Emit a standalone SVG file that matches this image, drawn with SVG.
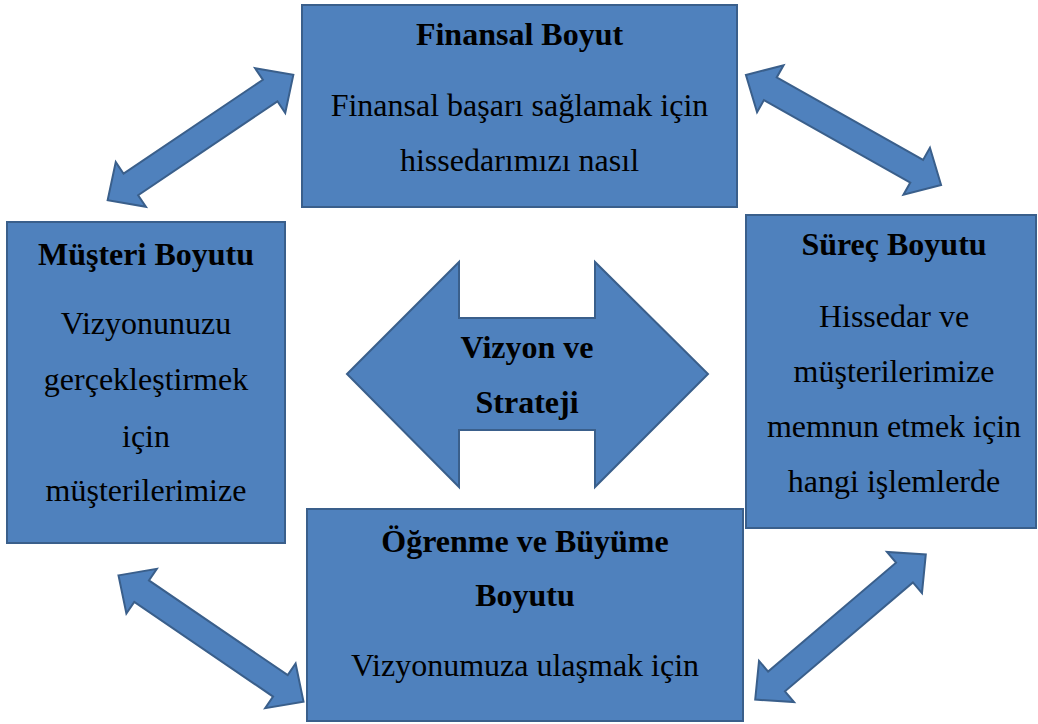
<svg xmlns="http://www.w3.org/2000/svg" width="1038" height="724" viewBox="0 0 1038 724">
  <defs>
    <!-- double-headed block arrow, centred on the origin, pointing along x -->
    <path id="dbl" d="M-112,0 L-84,-27 L-84,-13 L84,-13 L84,-27 L112,0 L84,27 L84,13 L-84,13 L-84,27 Z"/>
  </defs>
  <style>
    .bsc-box { fill: #4F81BD; stroke: #3A5F8B; stroke-width: 2; }
    .bsc-arrow { fill: #4F81BD; stroke: #3A5F8B; stroke-width: 2; stroke-linejoin: miter; }
    .bsc-head { font-family: 'Liberation Serif', serif; font-weight: bold; font-size: 32px; fill: #000000; text-anchor: middle; }
    .bsc-line { font-family: 'Liberation Serif', serif; font-weight: normal; font-size: 32px; fill: #000000; text-anchor: middle; }
  </style>
  <rect width="1038" height="724" fill="#FFFFFF"/>

  <!-- connectors between the four perspectives -->
  <g id="connectors">
    <use href="#dbl" class="bsc-arrow" transform="translate(200.5,137.5) rotate(-34)"/>
    <use href="#dbl" class="bsc-arrow" transform="translate(843.5,130) rotate(29.4)"/>
    <use href="#dbl" class="bsc-arrow" transform="translate(211,638.5) rotate(34.3)"/>
    <use href="#dbl" class="bsc-arrow" transform="translate(840.5,627) rotate(-40.4)"/>
  </g>

  <g id="finansal">
    <rect class="bsc-box" x="302" y="5" width="435" height="202"/>
    <text class="bsc-head" x="519.5" y="45">Finansal Boyut</text>
    <text class="bsc-line" x="519.5" y="116">Finansal başarı sağlamak için</text>
    <text class="bsc-line" x="519.5" y="171">hissedarımızı nasıl</text>
  </g>

  <g id="musteri">
    <rect class="bsc-box" x="7" y="222" width="278" height="321"/>
    <text class="bsc-head" x="146" y="265">Müşteri Boyutu</text>
    <text class="bsc-line" x="146" y="334">Vizyonunuzu</text>
    <text class="bsc-line" x="146" y="390">gerçekleştirmek</text>
    <text class="bsc-line" x="146" y="447">için</text>
    <text class="bsc-line" x="146" y="501">müşterilerimize</text>
  </g>

  <g id="surec">
    <rect class="bsc-box" x="746" y="215" width="290" height="313"/>
    <text class="bsc-head" x="894" y="255">Süreç Boyutu</text>
    <text class="bsc-line" x="894" y="327">Hissedar ve</text>
    <text class="bsc-line" x="894" y="382">müşterilerimize</text>
    <text class="bsc-line" x="894" y="437">memnun etmek için</text>
    <text class="bsc-line" x="894" y="492">hangi işlemlerde</text>
  </g>

  <g id="ogrenme">
    <rect class="bsc-box" x="307" y="509" width="436" height="212"/>
    <text class="bsc-head" x="525" y="552">Öğrenme ve Büyüme</text>
    <text class="bsc-head" x="525" y="606">Boyutu</text>
    <text class="bsc-line" x="525" y="676">Vizyonumuza ulaşmak için</text>
  </g>

  <g id="vizyon">
    <path class="bsc-arrow" d="M347,374 L459,262 L459,318 L595,318 L595,262 L708,374 L595,487 L595,430 L459,430 L459,487 Z"/>
    <text class="bsc-head" x="527" y="358">Vizyon ve</text>
    <text class="bsc-head" x="527" y="413">Strateji</text>
  </g>
</svg>
